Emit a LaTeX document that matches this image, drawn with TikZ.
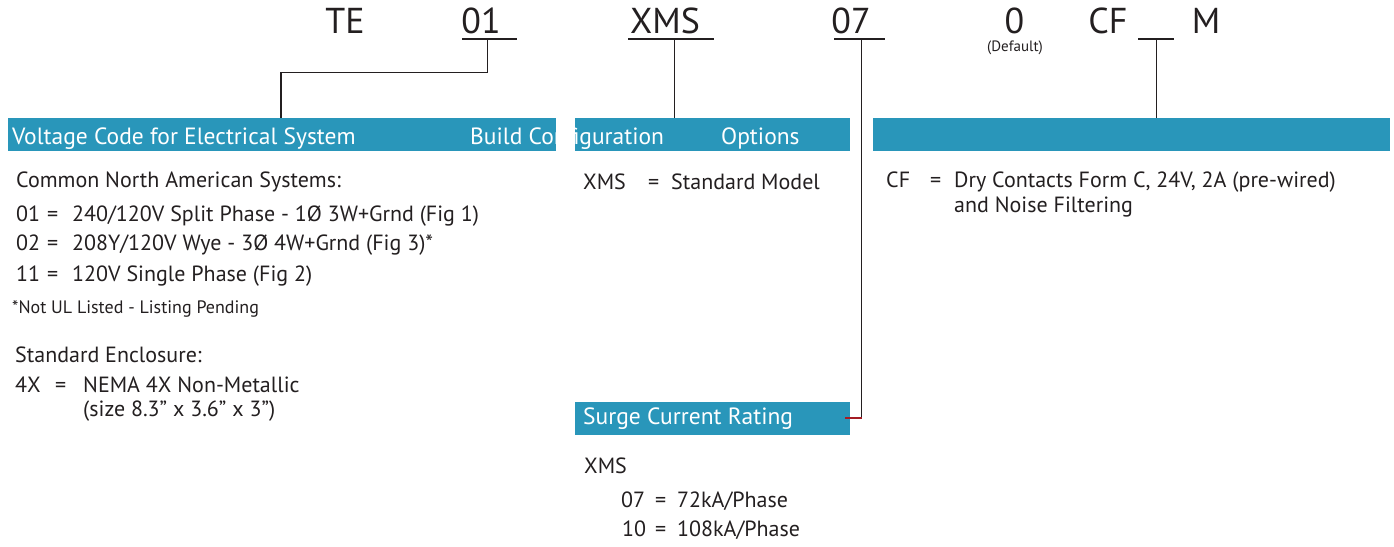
\documentclass[tikz,border=0pt]{standalone}
\usepackage{fontspec}
\setmainfont{PT Sans}
\usetikzlibrary{positioning}

\definecolor{barblue}{RGB}{41,150,186}
\definecolor{inkgray}{RGB}{35,31,32}
\definecolor{tickred}{RGB}{165,28,36}

\begin{document}
\begin{tikzpicture}[x=1pt,y=-1pt,
    code/.style={anchor=base, inner sep=0pt, text=inkgray, font=\fontsize{36}{40}\selectfont},
    small/.style={code, font=\fontsize{15}{17}\selectfont},
    bar/.style={fill=barblue, anchor=north west, inner sep=0pt, minimum height=33pt},
    bartext/.style={anchor=base west, inner sep=0pt, text=white, font=\fontsize{23.5}{26}\selectfont},
    entry/.style={anchor=base west, inner sep=0pt, text=inkgray, font=\fontsize{22}{26}\selectfont},
    note/.style={entry, font=\fontsize{18}{21}\selectfont},
    link/.style={draw=inkgray, line width=1.3pt}]
    \useasboundingbox (0,0) rectangle (1394,546);

    % part number
    \node[code] (te) at (345,33) {TE};
    \node[code] (c01) at (481,33) {01};
    \node[code] (xms) at (665,33) {XMS};
    \node[code] (c07) at (851,33) {07};
    \node[code] (c0) at (1014.5,33) {0};
    \node[small] (dflt) at (1015,51) {(Default)};
    \node[code] (cf) at (1108,33) {CF};
    \node[code] (m) at (1206,33) {M};

    % colour bars
    \node[bar, minimum width=548pt] (voltbar) at (8,118) {};
    \node[bar, minimum width=275pt] (optbar) at (575,118) {};
    \node[bar, minimum width=517pt] (cfbar) at (873,118) {};
    \node[bar, minimum width=275pt] (surgebar) at (575,402) {};

    \node[bartext] (volttitle) at (12,144) {Voltage Code for Electrical System};
    \node[bartext] (buildtitle) at (470,144) {Build Configuration};
    \fill[white] (556,116) rectangle (575,153);
    \node[bartext] (opttitle) at (721,144) {Options};
    \node[bartext] (surgetitle) at (583,424) {Surge Current Rating};

    % leaders
    \coordinate (t01) at (487.5,39);
    \coordinate (j01) at (281,72.5);
    \coordinate (txms) at (674.3,39);
    \coordinate (t07) at (861.8,39);
    \coordinate (j07) at (861.8,418);
    \coordinate (tm) at (1156.7,39);
    \draw[link] (462,39) -- (517,39);
    \draw[link] (628,39) -- (714,39);
    \draw[link] (834,39) -- (885,39);
    \draw[link] (1138,39) -- (1174,39);
    \draw[link] (t01) |- (j01) -- (j01 |- voltbar.north);
    \draw[link] (txms) -- (txms |- optbar.north);
    \draw[link] (t07) -- (j07);
    \draw[tickred, line width=1.3pt] (j07) -- ([xshift=-5pt]surgebar.east |- j07);
    \draw[link] (tm) -- (tm |- cfbar.north);

    % voltage codes
    \node[entry] (common) at (16,187) {Common North American Systems:};
    \node[entry] (v01) at (16,221.7) {01};
    \node[entry] (eq01) at (47,221.7) {=};
    \node[entry] (d01) at (72,221.7) {240/120V Split Phase - 1Ø 3W+Grnd (Fig 1)};
    \node[entry] (v02) at (16,250.5) {02};
    \node[entry] (eq02) at (47,250.5) {=};
    \node[entry] (d02) at (72,250.5) {208Y/120V Wye - 3Ø 4W+Grnd (Fig 3)*};
    \node[entry] (v11) at (16,281.5) {11};
    \node[entry] (eq11) at (47,281.5) {=};
    \node[entry] (d11) at (72,281.5) {120V Single Phase (Fig 2)};
    \node[note] (listing) at (12,313) {*Not UL Listed - Listing Pending};
    \node[entry] (encl) at (15,362.7) {Standard Enclosure:};
    \node[entry] (v4x) at (15,392) {4X};
    \node[entry] (eq4x) at (55,392) {=};
    \node[entry] (d4x) at (83,392) {NEMA 4X Non-Metallic};
    \node[entry] (size4x) at (83,416.7) {(size 8.3” x 3.6” x 3”)};

    % build configuration
    \node[entry] (vxms) at (583,189) {XMS};
    \node[entry] (eqxms) at (648,189) {=};
    \node[entry] (dxms) at (671,189) {Standard Model};

    % surge current
    \node[entry] (sxms) at (584,473.3) {XMS};
    \node[entry] (v07) at (621,507.7) {07};
    \node[entry] (eq07) at (655,507.7) {=};
    \node[entry] (d07) at (677,507.7) {72kA/Phase};
    \node[entry] (v10) at (622,536.7) {10};
    \node[entry] (eq10) at (655,536.7) {=};
    \node[entry] (d10) at (677,536.7) {108kA/Phase};

    % options
    \node[entry] (vcf) at (886,187) {CF};
    \node[entry] (eqcf) at (930,187) {=};
    \node[entry] (dcf) at (954,187) {Dry Contacts Form C, 24V, 2A (pre-wired)};
    \node[entry] (dcf2) at (954,212) {and Noise Filtering};
\end{tikzpicture}
\end{document}
